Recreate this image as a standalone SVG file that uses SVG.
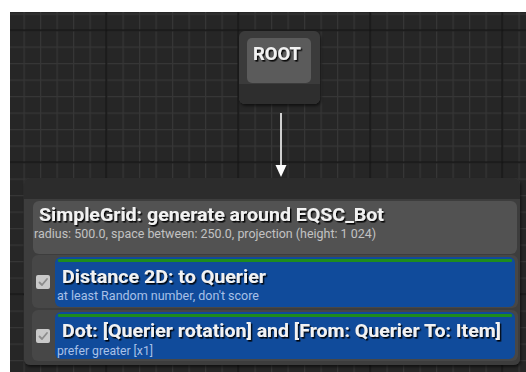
<svg xmlns="http://www.w3.org/2000/svg" width="526" height="372" viewBox="0 0 526 372">
<style>
.t{font-family:Roboto,"Liberation Sans",sans-serif;font-weight:bold;font-size:19px;fill:#f2f2f2;filter:url(#ts)}
.s{font-family:Roboto,"Liberation Sans",sans-serif;font-size:12.5px}
.sg{fill:#c2c2c2}
.sb{fill:#a9c1e8}
.blue{fill:#104b9b}
.green{fill:#1e8c1e}
.row{fill:#474747}
.cb{fill:#c9c9c9}
.ck{fill:none;stroke:#8c8c8c;stroke-width:1.8;stroke-linecap:round;stroke-linejoin:round}
</style>
<defs>
<pattern id="minor" patternUnits="userSpaceOnUse" x="7" y="13.5" width="16.5" height="16.5">
<rect width="16.5" height="16.5" fill="#262626"/>
<rect x="0" y="0" width="1.2" height="16.5" fill="#363636"/>
<rect x="0" y="0" width="16.5" height="1.2" fill="#363636"/>
</pattern>
<pattern id="major" patternUnits="userSpaceOnUse" x="105.5" y="29.5" width="132" height="132">
<rect x="0" y="0" width="1.5" height="132" fill="#141414"/>
<rect x="0" y="0" width="132" height="1.5" fill="#141414"/>
</pattern>
<filter id="ts" x="-5%" y="-30%" width="110%" height="160%">
<feDropShadow dx="1.4" dy="1.6" stdDeviation="0.4" flood-color="#000" flood-opacity="0.9"/>
</filter>
<filter id="ns" x="-5%" y="-5%" width="110%" height="115%">
<feDropShadow dx="1" dy="2" stdDeviation="1.5" flood-color="#000" flood-opacity="0.6"/>
</filter>
</defs>
<rect width="526" height="372" fill="#ffffff"/>
<rect x="10" y="12" width="516" height="360" fill="url(#minor)"/>
<rect x="10" y="12" width="516" height="360" fill="url(#major)"/>

<g id="root">
<rect x="239" y="31" width="81" height="73" rx="6" fill="#3b3b3b" filter="url(#ns)"/>
<path d="M239 84 H320 V98 A6 6 0 0 1 314 104 H245 A6 6 0 0 1 239 98 Z" fill="#2e2e2e"/>
<rect x="247" y="38" width="64" height="45" rx="5" fill="#5b5b5b"/>
<text class="t" x="253" y="60" textLength="48" lengthAdjust="spacingAndGlyphs" style="font-size:18px">ROOT</text>
</g>

<g id="connectors">
<line x1="281" y1="113" x2="281" y2="167" stroke="#d0d0d0" stroke-width="2"/>
<polygon points="275.5,165 286.5,165 281,177" fill="#ffffff"/>
</g>

<g id="generator">
<rect x="24" y="178" width="496" height="187" rx="6" fill="#3d3d3d" filter="url(#ns)"/>
<path d="M24 199 V184 A6 6 0 0 1 30 178 H514 A6 6 0 0 1 520 184 V199 Z" fill="#2c2c2c"/>
<rect x="33" y="201" width="484" height="53" rx="6" fill="#525252"/>
<text class="t" x="39" y="221" textLength="345" lengthAdjust="spacingAndGlyphs">SimpleGrid: generate around EQSC_Bot</text>
<text class="s sg" x="34" y="238" textLength="342" lengthAdjust="spacingAndGlyphs">radius: 500.0, space between: 250.0, projection (height: 1 024)</text>
</g>

<g id="test1">
<rect class="row" x="32" y="255" width="486" height="53" rx="6"/>
<rect class="blue" x="55" y="257" width="460" height="50" rx="6"/>
<rect class="green" x="58" y="259" width="454" height="3" rx="1"/>
<rect class="cb" x="36" y="275" width="14" height="14" rx="2"/>
<path class="ck" d="M39.5 282.5 L42 285 L47 279"/>
<text class="t" x="62" y="283" textLength="204" lengthAdjust="spacingAndGlyphs">Distance 2D: to Querier</text>
<text class="s sb" x="57" y="300" textLength="202" lengthAdjust="spacingAndGlyphs">at least Random number, don't score</text>
</g>

<g id="test2">
<rect class="row" x="32" y="310" width="486" height="51" rx="6"/>
<rect class="blue" x="55" y="312" width="460" height="47" rx="6"/>
<rect class="green" x="58" y="314" width="454" height="3" rx="1"/>
<rect class="cb" x="36" y="329" width="14" height="14" rx="2"/>
<path class="ck" d="M39.5 336.5 L42 339 L47 333"/>
<text class="t" x="62" y="337" textLength="439" lengthAdjust="spacingAndGlyphs">Dot: [Querier rotation] and [From: Querier To: Item]</text>
<text class="s sb" x="57" y="355" textLength="96" lengthAdjust="spacingAndGlyphs">prefer greater [x1]</text>
</g>
</svg>
